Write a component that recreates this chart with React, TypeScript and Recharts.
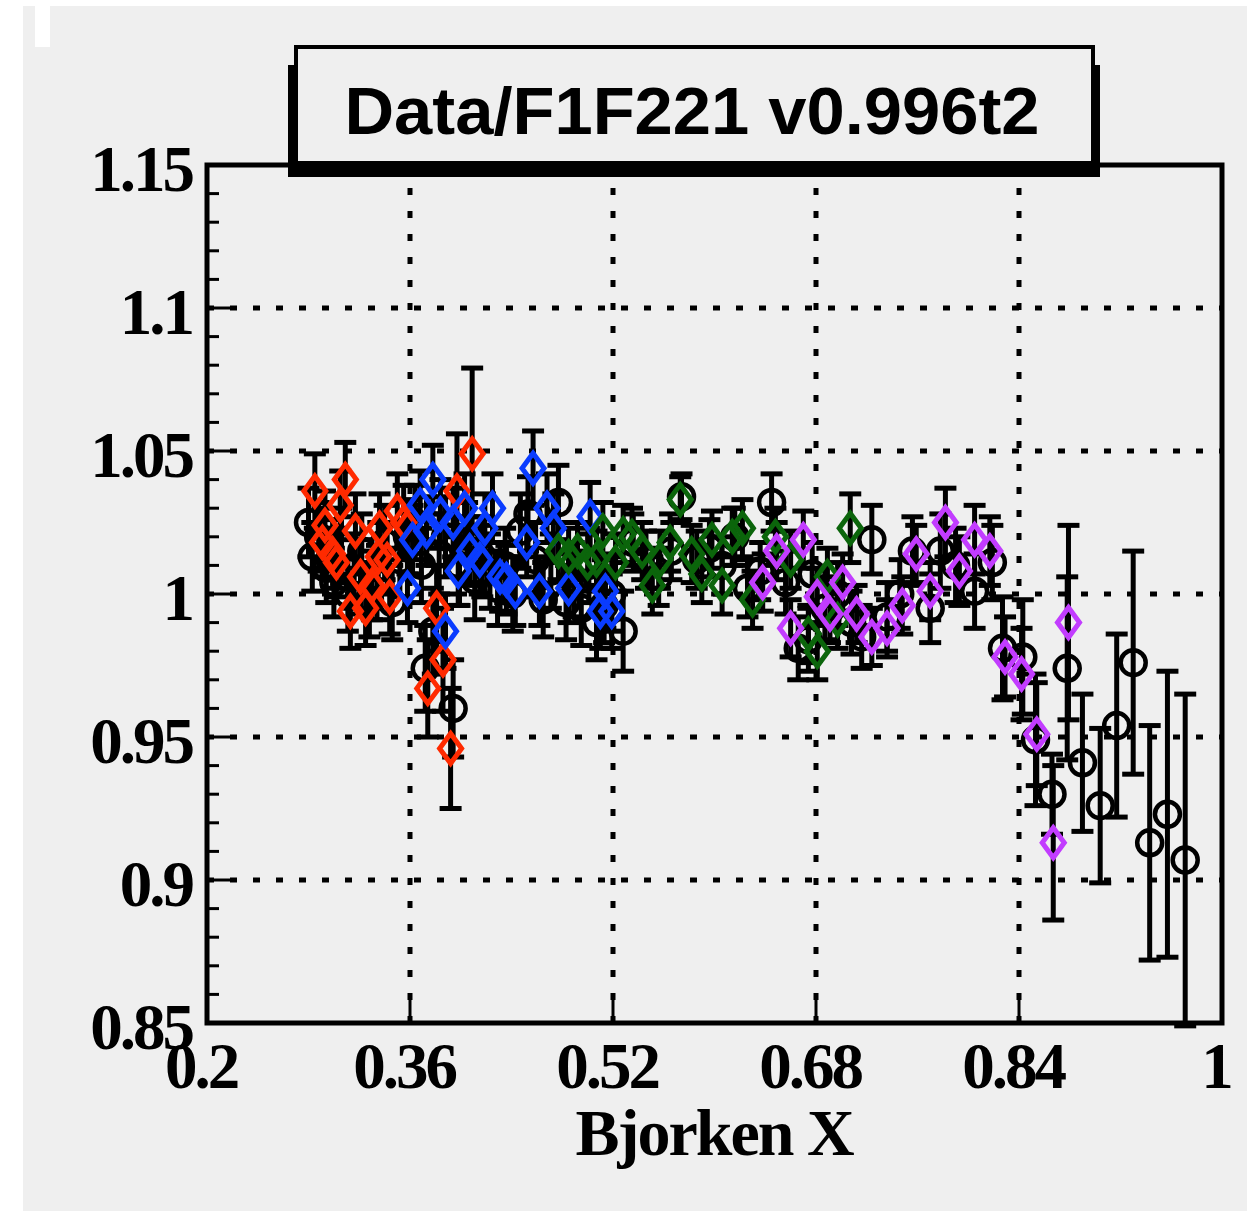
import React from 'react';
import {
  ScatterChart,
  Scatter,
  XAxis,
  YAxis,
  ErrorBar,
  ReferenceLine,
  ReferenceArea
} from 'recharts';

// black circles (all data)
const blackX = [0.280, 0.283, 0.288, 0.294, 0.300, 0.306, 0.311, 0.316, 0.322, 0.328, 0.334, 0.340, 0.346, 0.352, 0.358, 0.364, 0.369, 0.372, 0.378, 0.383, 0.388, 0.394, 0.399, 0.405, 0.411, 0.417, 0.423, 0.429, 0.435, 0.441, 0.447, 0.453, 0.459, 0.465, 0.471, 0.477, 0.483, 0.489, 0.495, 0.501, 0.507, 0.513, 0.519, 0.528, 0.536, 0.546, 0.556, 0.566, 0.574, 0.586, 0.596, 0.606, 0.616, 0.626, 0.636, 0.645, 0.656, 0.666, 0.674, 0.677, 0.687, 0.697, 0.708, 0.716, 0.724, 0.736, 0.746, 0.756, 0.770, 0.778, 0.790, 0.805, 0.819, 0.827, 0.843, 0.853, 0.866, 0.878, 0.890, 0.904, 0.917, 0.930, 0.943, 0.957, 0.971];
const blackY = [1.025, 1.013, 1.020, 1.009, 1.004, 1.017, 1.000, 1.008, 1.015, 0.998, 1.004, 1.018, 0.997, 1.012, 1.020, 1.025, 1.010, 0.974, 0.987, 1.014, 1.020, 0.960, 1.010, 1.018, 1.005, 1.013, 1.008, 1.002, 1.010, 1.000, 1.022, 1.028, 1.012, 0.998, 1.008, 1.032, 0.997, 1.005, 0.995, 1.010, 0.990, 0.996, 1.000, 0.987, 1.018, 1.012, 1.006, 1.015, 1.034, 1.012, 1.016, 1.010, 1.020, 1.002, 1.008, 1.032, 1.004, 0.981, 0.984, 1.007, 0.995, 1.000, 0.990, 0.985, 1.019, 0.992, 1.000, 1.015, 0.995, 1.015, 1.010, 1.001, 1.011, 0.981, 0.978, 0.949, 0.930, 0.974, 0.941, 0.926, 0.954, 0.976, 0.913, 0.923, 0.907];
const blackErr = [0.012, 0.012, 0.012, 0.012, 0.012, 0.013, 0.013, 0.013, 0.013, 0.013, 0.013, 0.013, 0.013, 0.013, 0.013, 0.013, 0.013, 0.015, 0.015, 0.014, 0.014, 0.017, 0.014, 0.014, 0.014, 0.014, 0.013, 0.013, 0.013, 0.013, 0.013, 0.013, 0.013, 0.013, 0.013, 0.013, 0.013, 0.013, 0.013, 0.013, 0.013, 0.013, 0.013, 0.014, 0.010, 0.010, 0.010, 0.010, 0.008, 0.010, 0.010, 0.010, 0.010, 0.010, 0.010, 0.010, 0.011, 0.011, 0.011, 0.011, 0.011, 0.011, 0.011, 0.011, 0.012, 0.012, 0.012, 0.012, 0.012, 0.013, 0.013, 0.013, 0.013, 0.018, 0.020, 0.023, 0.014, 0.032, 0.024, 0.027, 0.032, 0.039, 0.041, 0.050, 0.058];

// red diamonds
const redX = [0.285, 0.291, 0.293, 0.299, 0.302, 0.305, 0.309, 0.313, 0.317, 0.321, 0.325, 0.330, 0.335, 0.336, 0.342, 0.344, 0.350, 0.355, 0.374, 0.381, 0.386, 0.392, 0.397, 0.409];
const redY = [1.036, 1.018, 1.024, 1.014, 1.011, 1.031, 1.040, 0.994, 1.022, 1.006, 0.995, 1.003, 1.013, 1.023, 1.012, 0.999, 1.029, 1.025, 0.967, 0.995, 0.977, 0.946, 1.036, 1.049];
const redErr = [0.013, 0.012, 0.012, 0.012, 0.012, 0.012, 0.013, 0.013, 0.013, 0.013, 0.013, 0.012, 0.012, 0.012, 0.012, 0.013, 0.013, 0.013, 0.017, 0.015, 0.018, 0.021, 0.020, 0.030];

// blue diamonds
const blueX = [0.358, 0.362, 0.368, 0.373, 0.378, 0.384, 0.388, 0.394, 0.398, 0.403, 0.407, 0.415, 0.419, 0.425, 0.431, 0.436, 0.443, 0.452, 0.457, 0.462, 0.468, 0.473, 0.485, 0.502, 0.510, 0.514, 0.519];
const blueY = [1.002, 1.019, 1.031, 1.022, 1.040, 1.028, 0.987, 1.025, 1.008, 1.030, 1.015, 1.012, 1.023, 1.030, 1.006, 1.005, 1.001, 1.018, 1.044, 1.001, 1.030, 1.023, 1.002, 1.027, 0.994, 1.001, 0.994];
const blueErr = [0.012, 0.012, 0.012, 0.012, 0.012, 0.012, 0.013, 0.012, 0.012, 0.012, 0.012, 0.012, 0.012, 0.012, 0.012, 0.012, 0.012, 0.012, 0.013, 0.012, 0.012, 0.012, 0.012, 0.012, 0.013, 0.013, 0.013];

// green diamonds
const greenX = [0.477, 0.485, 0.492, 0.500, 0.507, 0.512, 0.522, 0.528, 0.535, 0.543, 0.551, 0.557, 0.565, 0.573, 0.582, 0.590, 0.598, 0.606, 0.614, 0.622, 0.630, 0.648, 0.660, 0.674, 0.681, 0.689, 0.697, 0.707];
const greenY = [1.015, 1.013, 1.015, 1.011, 1.012, 1.022, 1.011, 1.021, 1.020, 1.015, 1.003, 1.012, 1.018, 1.033, 1.014, 1.007, 1.019, 1.003, 1.020, 1.023, 0.998, 1.020, 1.012, 0.986, 0.980, 1.006, 0.991, 1.023];
const greenErr = [0.010, 0.010, 0.010, 0.010, 0.010, 0.010, 0.010, 0.010, 0.010, 0.010, 0.010, 0.010, 0.010, 0.008, 0.010, 0.010, 0.010, 0.010, 0.010, 0.010, 0.010, 0.010, 0.010, 0.010, 0.010, 0.010, 0.010, 0.012];

// purple diamonds
const purpleX = [0.638, 0.649, 0.660, 0.670, 0.681, 0.691, 0.701, 0.712, 0.724, 0.736, 0.748, 0.759, 0.770, 0.782, 0.793, 0.805, 0.817, 0.829, 0.842, 0.854, 0.867, 0.879];
const purpleY = [1.004, 1.015, 0.988, 1.019, 0.999, 0.993, 1.004, 0.993, 0.985, 0.988, 0.996, 1.014, 1.001, 1.025, 1.008, 1.019, 1.015, 0.978, 0.972, 0.951, 0.913, 0.990];
const purpleErr = [0.010, 0.010, 0.010, 0.010, 0.010, 0.010, 0.010, 0.010, 0.010, 0.010, 0.010, 0.010, 0.010, 0.012, 0.012, 0.012, 0.012, 0.014, 0.016, 0.018, 0.027, 0.034];

const xTicks = [0.2, 0.36, 0.52, 0.68, 0.84, 1];
const xGrid = [0.36, 0.52, 0.68, 0.84];
const yGrid = [0.9, 0.95, 1, 1.05, 1.1];

// y ticks every 0.01 (labels only on the 0.05 ones)
const yTicks: number[] = [];
for (let i = 0; i <= 30; i++) yTicks.push(Number((0.85 + i * 0.01).toFixed(2)));

const W = 1247;
const H = 1211;
const PLOT_LEFT = 207;
const PLOT_BOTTOM = 1023;
const BG = '#efefef';

const toPoints = (xs: number[], ys: number[], es: number[]) =>
  xs.map((x, i) => ({ x, y: ys[i], err: es[i] }));

const serif = '"Liberation Serif", "Times New Roman", serif';

const diamond = (color: string) => (props: any) => {
  const { cx, cy } = props;
  if (cx == null || cy == null) return null;
  return (
    <path
      d={`M${cx},${cy - 15} L${cx + 11},${cy} L${cx},${cy + 15} L${cx - 11},${cy} Z`}
      fill="none"
      stroke={color}
      strokeWidth={5}
    />
  );
};

const circle = (props: any) => {
  const { cx, cy } = props;
  if (cx == null || cy == null) return null;
  return <circle cx={cx} cy={cy} r={12.5} fill="none" stroke="#000" strokeWidth={4.5} />;
};

const isMajor = (v: number) => Math.abs(v * 20 - Math.round(v * 20)) < 1e-6;

const YTick = (props: any) => {
  const { y, payload } = props;
  const v = payload.value;
  const major = isMajor(v);
  return (
    <g>
      <line x1={PLOT_LEFT} x2={PLOT_LEFT + (major ? 24 : 12)} y1={y} y2={y} stroke="#000" strokeWidth={3} />
      {major && (
        <text
          x={PLOT_LEFT - 15}
          y={y + 26}
          textAnchor="end"
          fontFamily={serif}
          fontWeight="bold"
          fontSize={65}
          letterSpacing={-3}
          fill="#000"
        >
          {String(Number(v.toFixed(2)))}
        </text>
      )}
    </g>
  );
};

const XTick = (props: any) => {
  const { x, payload } = props;
  const v = payload.value;
  return (
    <g>
      <line x1={x} x2={x} y1={PLOT_BOTTOM} y2={PLOT_BOTTOM - 24} stroke="#000" strokeWidth={3} />
      <text
        x={x - 6}
        y={PLOT_BOTTOM + 65}
        textAnchor="middle"
        fontFamily={serif}
        fontWeight="bold"
        fontSize={65}
        letterSpacing={-3}
        fill="#000"
      >
        {String(Number(v.toFixed(2)))}
      </text>
    </g>
  );
};

const series = [
  { name: 'black', data: toPoints(blackX, blackY, blackErr), shape: circle },
  { name: 'red', data: toPoints(redX, redY, redErr), shape: diamond('#ff2a00') },
  { name: 'blue', data: toPoints(blueX, blueY, blueErr), shape: diamond('#0a3cff') },
  { name: 'green', data: toPoints(greenX, greenY, greenErr), shape: diamond('#0b650b') },
  { name: 'purple', data: toPoints(purpleX, purpleY, purpleErr), shape: diamond('#c23cff') }
];

export default function App() {
  return (
    <div style={{ position: 'absolute', left: 0, top: 0, width: W, height: H, background: '#fff', overflow: 'hidden' }}>
      <div style={{ position: 'absolute', left: 23, top: 6, right: 0, bottom: 0, background: BG }} />
      <div style={{ position: 'absolute', left: 35, top: 6, width: 15, height: 41, background: '#fff' }} />
      <div style={{ position: 'absolute', left: 0, top: 0 }}>
        <ScatterChart width={W} height={H} margin={{ top: 165, right: 25, bottom: 0, left: 0 }}>
          <XAxis
            type="number"
            dataKey="x"
            domain={[0.2, 1]}
            ticks={xTicks}
            interval={0}
            height={188}
            axisLine={false}
            tickLine={false}
            tick={<XTick />}
            allowDataOverflow
          />
          <YAxis
            type="number"
            dataKey="y"
            domain={[0.85, 1.15]}
            ticks={yTicks}
            interval={0}
            width={207}
            axisLine={false}
            tickLine={false}
            tick={<YTick />}
            allowDataOverflow
          />
          {yGrid.map((v) => (
            <ReferenceLine key={`gy${v}`} y={v} stroke="#000" strokeWidth={5} strokeDasharray="7 16" />
          ))}
          {xGrid.map((v) => (
            <ReferenceLine key={`gx${v}`} x={v} stroke="#000" strokeWidth={5} strokeDasharray="7 16" />
          ))}
          {series.map((s) => (
            <Scatter key={s.name} name={s.name} data={s.data} shape={s.shape} isAnimationActive={false}>
              <ErrorBar dataKey="err" direction="y" width={11} stroke="#000" strokeWidth={5} />
            </Scatter>
          ))}
          <ReferenceArea x1={0.2} x2={1} y1={0.85} y2={1.15} fill="none" stroke="#000" strokeWidth={5} ifOverflow="visible" />
        </ScatterChart>
      </div>
      <svg width={W} height={H} style={{ position: 'absolute', left: 0, top: 0, pointerEvents: 'none' }}>
        <rect x={288} y={65} width={812} height={112} fill="#000" />
        <rect x={296} y={47} width={797} height={116} fill={BG} stroke="#000" strokeWidth={4} />
        <text
          x={692}
          y={134}
          textAnchor="middle"
          fontFamily='"Liberation Sans", Arial, sans-serif'
          fontWeight="bold"
          fontSize={66}
          textLength={695}
          lengthAdjust="spacingAndGlyphs"
          fill="#000"
        >
          Data/F1F221 v0.996t2
        </text>
        <text
          x={714}
          y={1155}
          textAnchor="middle"
          fontFamily={serif}
          fontWeight="bold"
          fontSize={66}
          letterSpacing={-2}
          fill="#000"
        >
          Bjorken X
        </text>
      </svg>
    </div>
  );
}
